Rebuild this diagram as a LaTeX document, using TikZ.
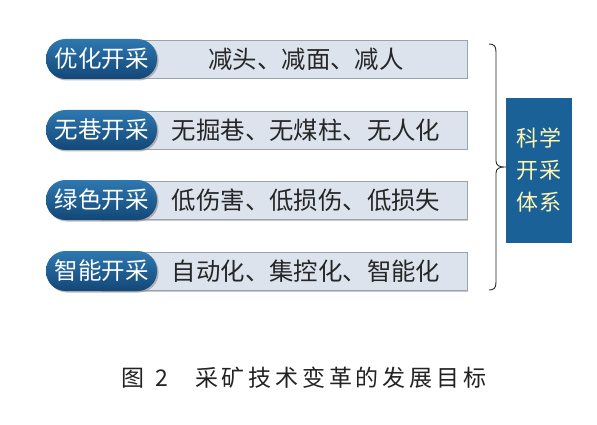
\documentclass[tikz,border=0pt]{standalone}
\usepackage{fontspec}
\newfontfamily\cjk{Noto Sans CJK SC}
\usetikzlibrary{shadows,decorations.pathreplacing}
\definecolor{barfill}{HTML}{DCE3EC}
\definecolor{barline}{HTML}{9AA4AE}
\definecolor{pilltop}{HTML}{2E78B0}
\definecolor{pillbot}{HTML}{134777}
\definecolor{boxblue}{HTML}{1A6197}
\definecolor{boxtext}{HTML}{FFF6B4}
\definecolor{captext}{HTML}{222222}
\tikzset{
  barbox/.style={draw=barline, line width=0.8pt, fill=barfill, minimum width=367pt, minimum height=38pt, inner sep=0pt,
    drop shadow={shadow xshift=1.2pt, shadow yshift=-1.5pt, fill=black!35, opacity=0.6}},
  pillbox/.style={rounded corners=19.5pt, minimum width=111pt, minimum height=40pt, inner sep=0pt,
    top color=pilltop, bottom color=pillbot, text=white,
    font=\cjk\fontsize{23.5}{26}\selectfont,
    drop shadow={shadow xshift=1.5pt, shadow yshift=-1.5pt, fill=black!45, opacity=0.6}},
  bartext/.style={font=\cjk\fontsize{24.4}{26}\selectfont, text=black!85, inner sep=0pt},
  sysbox/.style={fill=boxblue, minimum width=66pt, minimum height=145pt, inner sep=0pt, text=boxtext,
    align=center, font=\cjk\fontsize{22}{32}\selectfont\addfontfeature{LetterSpace=8}},
  captxt/.style={font=\cjk\fontsize{23}{26}\selectfont\addfontfeature{LetterSpace=16.5}, text=captext, anchor=west, inner sep=0pt},
  bracepath/.style={draw=black!85, line width=0.9pt}
}
\begin{document}
\begin{tikzpicture}[x=1pt,y=-1pt]
\useasboundingbox (0,0) rectangle (597,425);
\fill[white] (0,0) rectangle (597,425);
% rows
\foreach \i/\c/\a/\b in {1/59/优化开采/减头、减面、减人, 2/130/无巷开采/无掘巷、无煤柱、无人化, 3/200/绿色开采/低伤害、低损伤、低损失, 4/271/智能开采/自动化、集控化、智能化}{
  \node[barbox] (bar\i) at (283.5,\c) {};
  \node[pillbox] (pill\i) at (101.5,\c) {\a};
  \node[bartext] (txt\i) at (306,\c) {\b};
}
% system box
\node[sysbox] (sys) at (539,170.5) {科学\\开采\\体系};
% brace
\coordinate (btop) at (489,44);
\coordinate (bbot) at (489,290);
\coordinate (bmid) at (504,167);
\draw[bracepath] (btop) .. controls (494,44) and (496,46) .. (496,52) -- (496,161)
  .. controls (496,165) and (499,167) .. (bmid)
  .. controls (499,167) and (496,169) .. (496,173) -- (496,282)
  .. controls (496,288) and (494,290) .. (bbot);
% caption
\node[captxt] (cap1) at (121,378) {图};
\node[captxt] (cap2) at (155,378) {2};
\node[captxt] (cap3) at (195,378) {采矿技术变革的发展目标};
\end{tikzpicture}
\end{document}
